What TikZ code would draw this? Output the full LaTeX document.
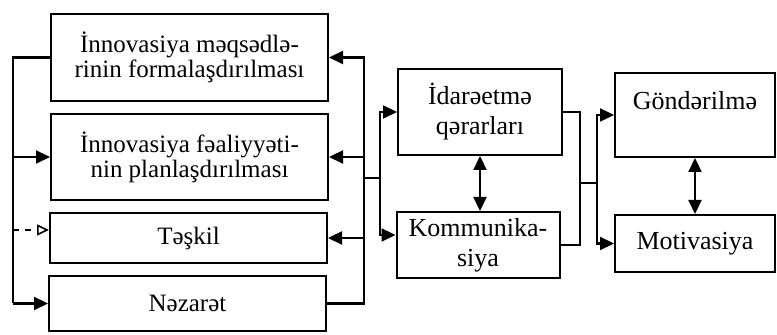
\documentclass[tikz,border=0pt]{standalone}
\usepackage{fontspec}
\setmainfont{Liberation Serif}
\usetikzlibrary{arrows.meta}
\begin{document}
\begin{tikzpicture}[x=0.5pt,y=-0.5pt,>={Triangle[length=7pt,width=6.5pt]}]
    \tikzset{
        block/.style={
            draw,
            line width=1pt,
            inner sep=2pt,
            align=center,
            font=\fontsize{12.5}{12.5}\selectfont
        },
        tallblock/.style={block,font=\fontsize{13}{15}\selectfont},
        link/.style={->,line width=1.1pt},
        wire/.style={line width=1.1pt}
    }
    \useasboundingbox (0,0) rectangle (777,335);

    % left column
    \node[block,minimum width=138.5pt,minimum height=43.5pt] (goal) at (189.5,57.5)
        {İnnovasiya məqsədlə-\\rinin formalaşdırılması};
    \node[block,minimum width=138.5pt,minimum height=43pt] (plan) at (189.5,157)
        {İnnovasiya fəaliyyəti-\\nin planlaşdırılması};
    \node[block,minimum width=138.5pt,minimum height=25pt] (org) at (188.5,238)
        {Təşkil};
    \node[block,minimum width=138.5pt,minimum height=27.5pt] (ctrl) at (187.5,303.5)
        {Nəzarət};

    % middle column
    \node[tallblock,minimum width=82pt,minimum height=43pt] (dec) at (480,112)
        {İdarəetmə\\qərarları};
    \node[tallblock,minimum width=81.5pt,minimum height=33pt] (comm) at (478,245)
        {Kommunika-\\siya};

    % right column
    \node[tallblock,minimum width=80pt,minimum height=42pt] (send) at (695,115)
        {Göndərilmə\\\mbox{}};
    \node[tallblock,minimum width=80pt,minimum height=28.5pt] (motiv) at (695,243.5)
        {Motivasiya};

    \coordinate (lbus) at (13,303.5);
    \coordinate (rbus) at (364,303.5);
    \coordinate (mj) at (364,178);
    \coordinate (mbus) at (380,178);
    \coordinate (rj) at (580,183);
    \coordinate (rbus2) at (597,183);
    \coordinate (orgin) at ([yshift=4pt]org.west);
    \coordinate (commin) at ([yshift=5pt]comm.west);

    % left bus
    \draw[wire] (goal.west) -| (lbus);
    \draw[link] (lbus |- plan.west) -- (plan.west);
    \draw[line width=0.8pt,dashed,-{Triangle[open,length=6pt,width=5.5pt]}] (lbus |- orgin) -- (orgin);
    \draw[link] (lbus) -- (ctrl.west);

    % right bus
    \draw[link] (ctrl.east) -| (rbus |- goal.east) -- (goal.east);
    \draw[link] (rbus |- plan.east) -- (plan.east);
    \draw[link] (rbus |- org.east) -- (org.east);
    \draw[wire] (mj) -- (mbus);
    \draw[link] (mbus) |- (dec.west);
    \draw[link] (mbus) |- (commin);
    \draw[link,<->] (dec.south) -- (dec.south |- comm.north);

    % outputs
    \draw[wire] (dec.east) -| (rj) |- (comm.east);
    \draw[wire] (rj) -- (rbus2);
    \draw[link] (rbus2) |- (send.west);
    \draw[link] (rbus2) |- (motiv.west);
    \draw[link,<->] (send.south) -- (motiv.north);
\end{tikzpicture}
\end{document}
